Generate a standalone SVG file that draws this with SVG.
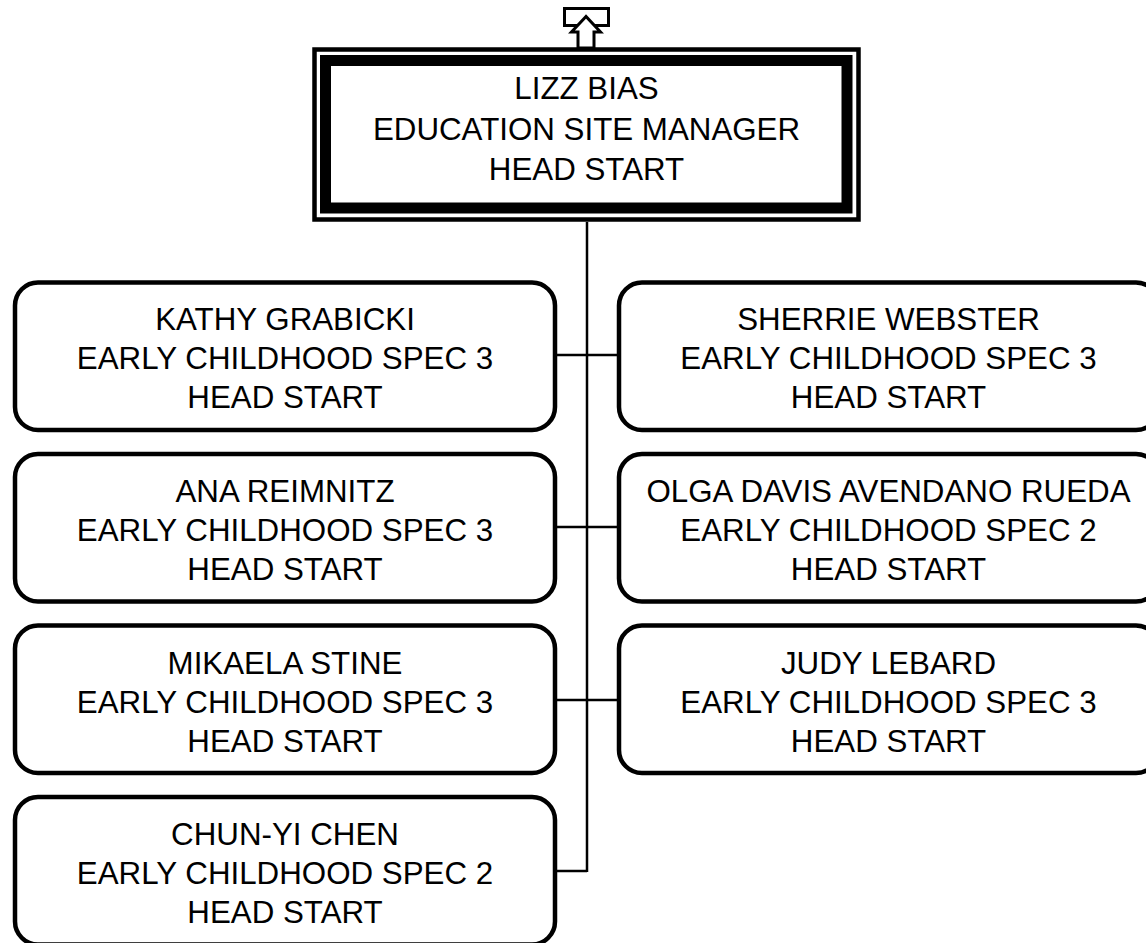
<svg xmlns="http://www.w3.org/2000/svg" width="1146" height="943" viewBox="0 0 1146 943">
<style>
.box{fill:#fff;stroke:#000;stroke-width:4.5}
.t{font-family:"Liberation Sans",Arial,sans-serif;font-size:31.3px;text-anchor:middle;fill:#000}
.c{stroke:#000;stroke-width:2.5;fill:none}
</style>
<rect width="1146" height="943" fill="#fff"/>
<g id="connectors">
<line class="c" x1="587" y1="222" x2="587" y2="872"/>
<line class="c" x1="555" y1="355" x2="619" y2="355"/>
<line class="c" x1="555" y1="527" x2="619" y2="527"/>
<line class="c" x1="555" y1="700" x2="619" y2="700"/>
<line class="c" x1="555" y1="871" x2="587" y2="871"/>
</g>
<g id="up-arrow">
<rect x="564.5" y="8.5" width="44" height="17" fill="#fff" stroke="#000" stroke-width="3"/>
<polygon points="586,16.5 571.5,32 578,32 578,48 594,48 594,32 600.5,32" fill="#fff" stroke="#000" stroke-width="3" stroke-linejoin="miter"/>
</g>
<g id="manager">
<rect x="314.5" y="49.5" width="544" height="170" fill="#fff" stroke="#000" stroke-width="4.5"/>
<rect x="325.5" y="60.5" width="521.5" height="147.5" fill="#fff" stroke="#000" stroke-width="11"/>
<text class="t" x="586.5" y="99">LIZZ BIAS</text>
<text class="t" x="586.5" y="139.5">EDUCATION SITE MANAGER</text>
<text class="t" x="586.5" y="180">HEAD START</text>
</g>
<g id="kathy">
<rect class="box" x="15" y="282.5" width="540" height="147.5" rx="23"/>
<text class="t" x="285" y="330">KATHY GRABICKI</text>
<text class="t" x="285" y="369">EARLY CHILDHOOD SPEC 3</text>
<text class="t" x="285" y="408">HEAD START</text>
</g>
<g id="ana">
<rect class="box" x="15" y="454" width="540" height="147.5" rx="23"/>
<text class="t" x="285" y="502">ANA REIMNITZ</text>
<text class="t" x="285" y="541">EARLY CHILDHOOD SPEC 3</text>
<text class="t" x="285" y="580">HEAD START</text>
</g>
<g id="mikaela">
<rect class="box" x="15" y="625.5" width="540" height="147.5" rx="23"/>
<text class="t" x="285" y="674">MIKAELA STINE</text>
<text class="t" x="285" y="713">EARLY CHILDHOOD SPEC 3</text>
<text class="t" x="285" y="752">HEAD START</text>
</g>
<g id="chunyi">
<rect class="box" x="15" y="797" width="540" height="147.5" rx="23"/>
<text class="t" x="285" y="845">CHUN-YI CHEN</text>
<text class="t" x="285" y="884">EARLY CHILDHOOD SPEC 2</text>
<text class="t" x="285" y="923">HEAD START</text>
</g>
<g id="sherrie">
<rect class="box" x="619" y="282.5" width="540" height="147.5" rx="23"/>
<text class="t" x="888.5" y="330">SHERRIE WEBSTER</text>
<text class="t" x="888.5" y="369">EARLY CHILDHOOD SPEC 3</text>
<text class="t" x="888.5" y="408">HEAD START</text>
</g>
<g id="olga">
<rect class="box" x="619" y="454" width="540" height="147.5" rx="23"/>
<text class="t" x="888.5" y="502">OLGA DAVIS AVENDANO RUEDA</text>
<text class="t" x="888.5" y="541">EARLY CHILDHOOD SPEC 2</text>
<text class="t" x="888.5" y="580">HEAD START</text>
</g>
<g id="judy">
<rect class="box" x="619" y="625.5" width="540" height="147.5" rx="23"/>
<text class="t" x="888.5" y="674">JUDY LEBARD</text>
<text class="t" x="888.5" y="713">EARLY CHILDHOOD SPEC 3</text>
<text class="t" x="888.5" y="752">HEAD START</text>
</g>
</svg>
